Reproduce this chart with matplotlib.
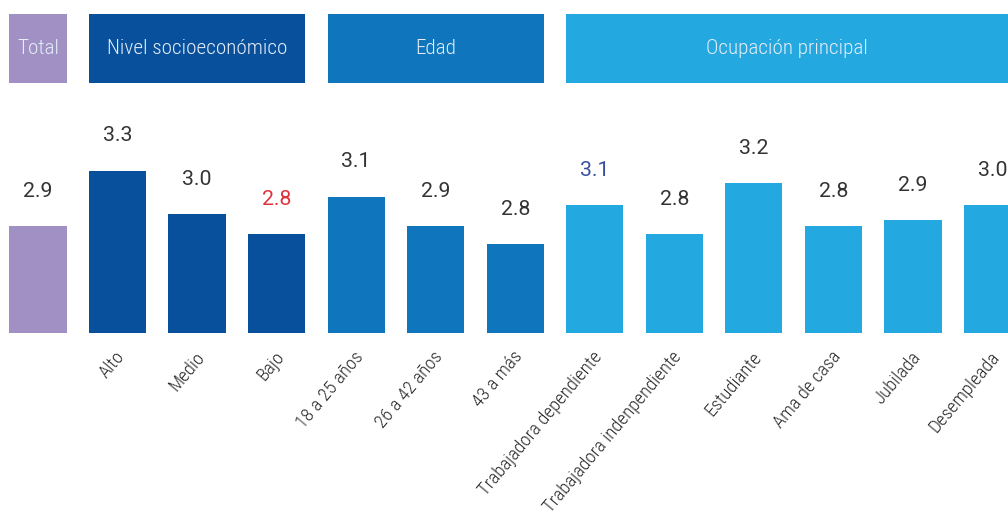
import time
import matplotlib
matplotlib.use("Agg")
import matplotlib.pyplot as plt
from matplotlib import font_manager
from matplotlib.font_manager import FontProperties
from matplotlib.textpath import TextPath
from matplotlib.patches import Rectangle
import matplotlib.transforms as mtransforms

# ---------------- data ----------------
categories = ["Total", "Alto", "Medio", "Bajo", "18 a 25 años", "26 a 42 años",
              "43 a más", "Trabajadora dependiente", "Trabajadora indenpendiente",
              "Estudiante", "Ama de casa", "Jubilada", "Desempleada"]
values = [2.86, 3.31, 2.96, 2.80, 3.10, 2.86, 2.72, 3.03, 2.80, 3.21, 2.86, 2.91, 3.03]
value_labels = ["2.9", "3.3", "3.0", "2.8", "3.1", "2.9", "2.8", "3.1", "2.8",
                "3.2", "2.8", "2.9", "3.0"]
groups = ["Total", "Nivel socioeconómico", "Edad", "Ocupación principal"]
group_sizes = [1, 3, 3, 6]

# ---------------- style ----------------
group_colors = ["#a190c4", "#08509c", "#0f75bc", "#23a8e0"]
label_colors = ["#333333"] * len(categories)
label_colors[3] = "#e0323c"
label_colors[7] = "#3a4fa0"

PX = 100 / 72.0  # px per point at dpi 100


def ext(s, fp):
    return TextPath((0, 0), s, size=100, prop=fp).get_extents()


bases = ["noto sans", "open sans", "dejavu sans", "liberation sans", "roboto", "lato", "inter"]
okwords = {"condensed", "semicondensed", "extracondensed", "narrow", "semi", "extra",
           "light", "semilight", "regular"}
cands = []
for f in font_manager.fontManager.ttflist:
    nm = f.name.lower()
    if f.style != "normal":
        continue
    good = False
    for b in bases:
        if nm.startswith(b):
            rest = nm[len(b):].split()
            if all(w in okwords for w in rest):
                good = True
            break
    if not good:
        continue
    try:
        w = int(f.weight)
    except Exception:
        w = 400 if f.weight == "normal" else 700
    if w < 300 or w > 400:
        continue
    narrow = ("condensed" in nm or "narrow" in nm or
              f.stretch in ("condensed", "semi-condensed", "extra-condensed", "ultra-condensed"))
    if not narrow and nm not in ("liberation sans",):
        continue
    cands.append((f.fname, w))

target_ratio = 162.0 / 15.0
best = None
t0 = time.time()
seen = set()
for fname, w in cands:
    if fname in seen:
        continue
    seen.add(fname)
    if time.time() - t0 > 20:
        break
    try:
        fp = FontProperties(fname=fname)
        r = ext("Nivel socioeconómico", fp).width / ext("N", fp).height
    except Exception:
        continue
    score = abs(r - target_ratio) + (0.2 if w == 300 else 0.0)
    if best is None or score < best[0]:
        best = (score, fname)

if best is not None:
    FP = FontProperties(fname=best[1])
else:
    FP = FontProperties(family="Liberation Sans")

# value labels: a regular-width face
try:
    vf = font_manager.findfont(FontProperties(family="Roboto", weight="normal"),
                               fallback_to_default=False)
    FPV = FontProperties(fname=vf)
except Exception:
    FPV = FontProperties(family="Liberation Sans")

cap_h = ext("N", FP).height / 100.0
dig_h = ext("3", FPV).height / 100.0
tick_w = ext("Trabajadora dependiente", FP).width / 100.0
fs_head = 15.0 / (cap_h * PX)
fs_val = 15.5 / (dig_h * PX)
fs_tick = 180.0 / (tick_w * PX)


def fprop(base, size):
    p = base.copy()
    p.set_size(size)
    return p


W, H = 1008, 513
fig = plt.figure(figsize=(W / 100, H / 100), dpi=100)
pitch = 79.54
base_px = 180            # baseline distance from figure bottom (px)
ax_h_px = H - base_px
scale = 124.0            # px per unit
x0 = -38 / pitch
ax = fig.add_axes([0, base_px / H, 1, ax_h_px / H])
ax.set_xlim(x0, x0 + W / pitch)
ymin = 2.0
ax.set_ylim(ymin, ymin + ax_h_px / scale)
ax.axis("off")

bar_w = 0.72
bar_colors = []
for c, n in zip(group_colors, group_sizes):
    bar_colors += [c] * n

xs = list(range(len(categories)))
heights = [v - ymin for v in values]
ax.bar(xs, heights, bottom=ymin, width=bar_w, color=bar_colors, edgecolor="none")

# value labels
for x, v, lab, col in zip(xs, values, value_labels, label_colors):
    ax.annotate(lab, xy=(x, v), xytext=(0, 21), textcoords="offset points",
                ha="center", va="baseline", fontproperties=fprop(FPV, fs_val), color=col)

# category labels (skip Total)
for x, cat in zip(xs[1:], categories[1:]):
    ax.annotate(cat, xy=(x, ymin), xytext=(3.0, -15), textcoords="offset points",
                ha="right", va="center", rotation=50, rotation_mode="anchor",
                fontproperties=fprop(FP, fs_tick), color="#262626", annotation_clip=False)

# header boxes
trans = mtransforms.blended_transform_factory(ax.transData, ax.transAxes)
y_lo = (H - 83 - base_px) / ax_h_px
y_hi = (H - 14 - base_px) / ax_h_px
start = 0
for g, n, c in zip(groups, group_sizes, group_colors):
    left = start - bar_w / 2
    right = start + n - 1 + bar_w / 2
    ax.add_patch(Rectangle((left, y_lo), right - left, y_hi - y_lo,
                           transform=trans, facecolor=c, edgecolor="none",
                           clip_on=False))
    cx = (left + min(right, x0 + W / pitch)) / 2
    ax.text(cx, (y_lo + y_hi) / 2, g, transform=trans, ha="center", va="center",
            fontproperties=fprop(FP, fs_head), color="#e4edf8")
    start += n

fig.savefig("out.png", dpi=100)
